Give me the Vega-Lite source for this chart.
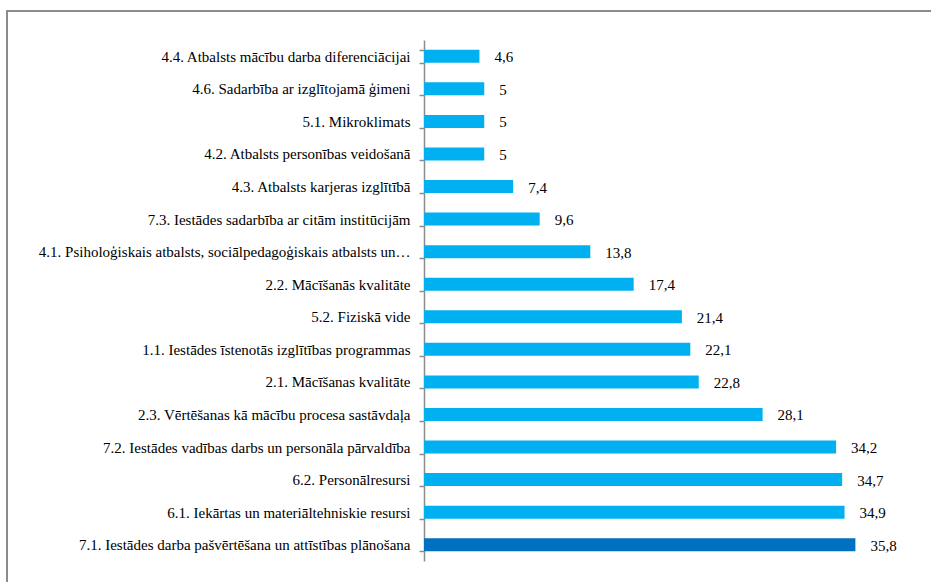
{
  "$schema": "https://vega.github.io/schema/vega-lite/v6.json",
  "autosize": "none",
  "padding": {"left": 7, "top": 11, "right": 0, "bottom": 0},
  "width": 940,
  "height": 590,
  "background": "white",
  "config": {
    "view": {"stroke": "#8c8c8c", "strokeWidth": 2},
    "locale": {"number": {"decimal": ",", "thousands": " ", "grouping": [3], "currency": ["", ""]}},
    "font": "Liberation Serif"
  },
  "data": {
    "values": [
      {"category": "4.4. Atbalsts mācību darba diferenciācijai", "value": 4.6},
      {"category": "4.6. Sadarbība ar izglītojamā ģimeni", "value": 5},
      {"category": "5.1. Mikroklimats", "value": 5},
      {"category": "4.2. Atbalsts personības veidošanā", "value": 5},
      {"category": "4.3. Atbalsts karjeras izglītībā", "value": 7.4},
      {"category": "7.3. Iestādes sadarbība ar citām institūcijām", "value": 9.6},
      {"category": "4.1. Psiholoģiskais atbalsts, sociālpedagoģiskais atbalsts un…", "value": 13.8},
      {"category": "2.2. Mācīšanās kvalitāte", "value": 17.4},
      {"category": "5.2. Fiziskā vide", "value": 21.4},
      {"category": "1.1. Iestādes īstenotās izglītības programmas", "value": 22.1},
      {"category": "2.1. Mācīšanas kvalitāte", "value": 22.8},
      {"category": "2.3. Vērtēšanas kā mācību procesa sastāvdaļa", "value": 28.1},
      {"category": "7.2. Iestādes vadības darbs un personāla pārvaldība", "value": 34.2},
      {"category": "6.2. Personālresursi", "value": 34.7},
      {"category": "6.1. Iekārtas un materiāltehniskie resursi", "value": 34.9},
      {"category": "7.1. Iestādes darba pašvērtēšana un attīstības plānošana", "value": 35.8}
    ]
  },
  "encoding": {
    "y": {
      "field": "category",
      "type": "nominal",
      "sort": null,
      "scale": {"range": [29, 550], "paddingInner": 0.6, "paddingOuter": 0.3},
      "axis": {
        "title": null,
        "offset": -417,
        "domainColor": "#8c8c8c",
        "domainWidth": 1.5,
        "tickColor": "#8c8c8c",
        "tickWidth": 1.5,
        "tickSize": 5,
        "tickBand": "extent",
        "labelFont": "Liberation Serif",
        "labelFontSize": 15,
        "labelColor": "#000000",
        "labelPadding": 9,
        "labelLimit": 500
      }
    },
    "x": {
      "field": "value",
      "type": "quantitative",
      "scale": {"domain": [0, 40], "range": [417, 899]},
      "axis": null
    }
  },
  "layer": [
    {
      "mark": {"type": "bar"},
      "encoding": {
        "color": {
          "condition": {"test": "datum.value > 35.5", "value": "#0070C0"},
          "value": "#00B0F0"
        }
      }
    },
    {
      "mark": {"type": "text", "align": "left", "dx": 15, "dy": 1, "font": "Liberation Serif", "fontSize": 15, "color": "#000000"},
      "encoding": {
        "text": {"field": "value", "type": "quantitative", "format": ".1~f"}
      }
    }
  ]
}
